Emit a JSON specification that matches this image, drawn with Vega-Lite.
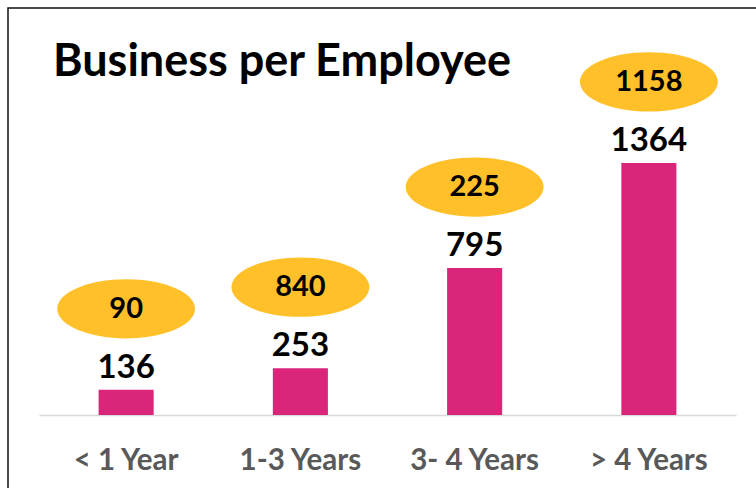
{
  "$schema": "https://vega.github.io/schema/vega-lite/v6.json",
  "width": 751,
  "height": 483,
  "autosize": {"type": "none"},
  "padding": {"left": 8, "top": 8, "right": -3, "bottom": -3},
  "background": "white",
  "config": {"view": {"stroke": "#111111", "strokeWidth": 1.5}, "font": "Lato"},
  "title": {"text": "Business per Employee", "anchor": "start", "frame": "group", "orient": "top", "offset": -113, "baseline": "alphabetic", "dx": 45, "fontSize": 45, "fontWeight": "bold", "color": "#000000", "font": "Lato"},
  "data": {"values": [
    {"tenure": "< 1 Year", "business": 136, "employees": 90},
    {"tenure": "1-3 Years", "business": 253, "employees": 840},
    {"tenure": "3- 4 Years", "business": 795, "employees": 225},
    {"tenure": "> 4 Years", "business": 1364, "employees": 1158}
  ]},
  "encoding": {
    "x": {"field": "tenure", "type": "nominal", "sort": null,
      "scale": {"range": [31, 728], "paddingInner": 0.684, "paddingOuter": 0.342},
      "axis": {"title": null, "orient": "bottom", "offset": -76, "domain": true, "domainColor": "#D9D9D9", "domainWidth": 1.5, "ticks": false, "labelPadding": 54, "labelBaseline": "alphabetic", "labelFontSize": 29.5, "labelFontWeight": "bold", "labelColor": "#595959", "labelFont": "Lato", "labelAngle": 0}},
    "y": {"field": "business", "type": "quantitative", "scale": {"domain": [0, 2202], "range": [407, 0], "nice": false}, "axis": null}
  },
  "layer": [
    {"mark": {"type": "bar", "color": "#D9267A"}},
    {"mark": {"type": "text", "dy": -12, "baseline": "alphabetic", "fontSize": 33, "fontWeight": "bold", "color": "#000000"}, "encoding": {"text": {"field": "business"}}},
    {"mark": {"type": "point", "shape": "M-1,0A1,0.43,0,1,1,1,0A1,0.43,0,1,1,-1,0Z", "size": 19000, "filled": true, "color": "#FFC02A", "opacity": 1, "yOffset": -81}},
    {"mark": {"type": "text", "yOffset": -81, "baseline": "middle", "fontSize": 29, "fontWeight": "bold", "color": "#000000"}, "encoding": {"text": {"field": "employees"}}}
  ]
}
